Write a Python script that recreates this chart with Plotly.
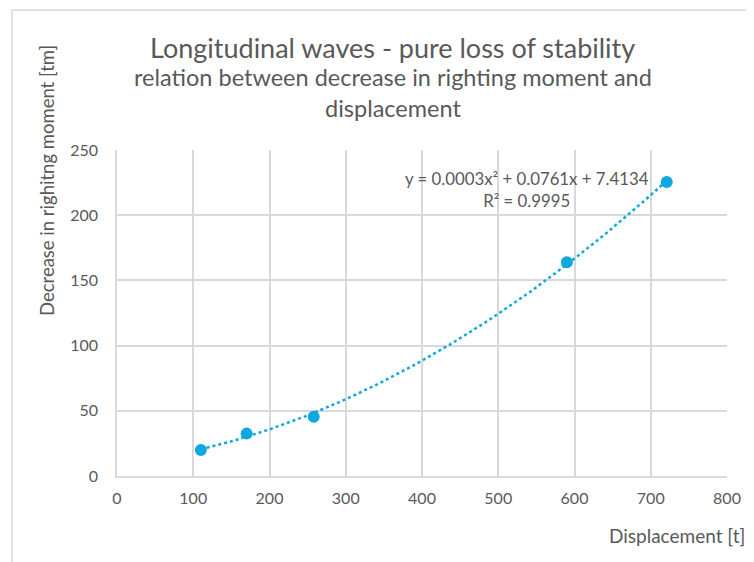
import numpy as np
import plotly.graph_objects as go

displacement = [110, 170, 258, 590, 721]
decrease_moment = [20, 32.5, 45.5, 164, 225.5]
x_ticks = [0, 100, 200, 300, 400, 500, 600, 700, 800]
y_ticks = [0, 50, 100, 150, 200, 250]

title_main = "Longitudinal waves - pure loss of stability"
title_sub = "relation between decrease in righting moment and<br>displacement"
x_title = "Displacement [t]"
y_title = "Decrease in righitng moment [tm]"
equation = "y = 0.0003x² + 0.0761x + 7.4134<br>R² = 0.9995"

FONT = "Lato"
GREY = "#595959"
BLUE = "#0FA8DE"

coef = np.polyfit(displacement, decrease_moment, 2)
xs = np.linspace(min(displacement), max(displacement), 200)
ys = np.polyval(coef, xs)

fig = go.Figure()
fig.add_trace(go.Scatter(x=xs, y=ys, mode="lines",
                         line=dict(color=BLUE, width=2.5, dash="dot"),
                         hoverinfo="skip", showlegend=False))
fig.add_trace(go.Scatter(x=displacement, y=decrease_moment, mode="markers",
                         marker=dict(color=BLUE, size=12), showlegend=False))

# page body has an 8px margin: work in screen coordinates shifted by 8
OFF = 8
W, H = 754 - OFF, 562 - OFF
L, R, T, B = 117, 727, 150, 476  # plot area in screen px

fig.update_layout(
    width=W, height=H,
    margin=dict(l=L - OFF, r=W - (R - OFF), t=T - OFF, b=H - (B - OFF)),
    paper_bgcolor="white", plot_bgcolor="white",
    font=dict(family=FONT, color=GREY, size=16),
    xaxis=dict(range=[0, 800], tickvals=x_ticks, showgrid=True, gridcolor="#d9d9d9",
               gridwidth=1.5, zeroline=False, showline=True, linecolor="#d9d9d9",
               linewidth=1.5, ticks="outside", ticklen=7, tickcolor="rgba(0,0,0,0)",
               tickfont=dict(size=16, color=GREY), fixedrange=True),
    yaxis=dict(range=[0, 250], tickvals=y_ticks, showgrid=True, gridcolor="#d9d9d9",
               gridwidth=1.5, zeroline=False, showline=True, linecolor="#d9d9d9",
               linewidth=1.5, ticks="outside", ticklen=14, tickcolor="rgba(0,0,0,0)",
               tickfont=dict(size=16, color=GREY), fixedrange=True),
)

def px(x):
    return (x - L) / (R - L)
def py(y):
    return (B - y) / (B - T)

# chart area border (top and left visible)
fig.add_shape(type="line", xref="paper", yref="paper", x0=px(12), x1=px(770), y0=py(10), y1=py(10),
              line=dict(color="#d9d9d9", width=1.5))
fig.add_shape(type="line", xref="paper", yref="paper", x0=px(12), x1=px(12), y0=py(10), y1=py(580),
              line=dict(color="#d9d9d9", width=1.5))

fig.add_annotation(xref="paper", yref="paper", x=px(392), y=py(47), text=title_main,
                   showarrow=False, font=dict(size=27, color=GREY, family=FONT),
                   xanchor="center", yanchor="middle")
fig.add_annotation(xref="paper", yref="paper", x=px(393), y=py(93), text=title_sub,
                   showarrow=False, font=dict(size=23.5, color=GREY, family=FONT),
                   xanchor="center", yanchor="middle", align="center")
fig.add_annotation(xref="paper", yref="paper", x=px(747), y=py(535), text=x_title,
                   showarrow=False, font=dict(size=19, color=GREY, family=FONT),
                   xanchor="right", yanchor="middle")
fig.add_annotation(xref="paper", yref="paper", x=px(47), y=py(181), text=y_title,
                   showarrow=False, font=dict(size=18.5, color=GREY, family=FONT),
                   textangle=-90, xanchor="center", yanchor="middle")
fig.add_annotation(xref="paper", yref="paper", x=px(527), y=py(189), text=equation,
                   showarrow=False, font=dict(size=16.8, color=GREY, family=FONT),
                   xanchor="center", yanchor="middle", align="center")

fig.write_html("out.html")
